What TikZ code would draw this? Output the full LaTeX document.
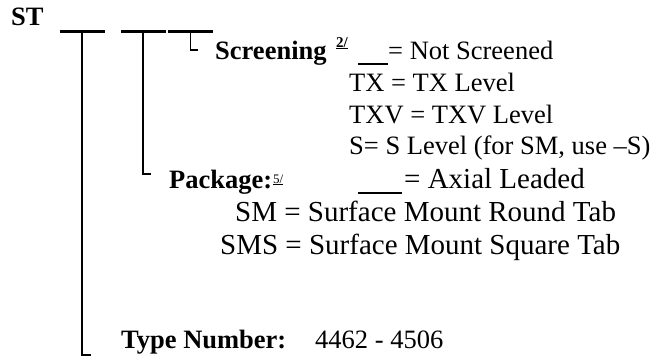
\documentclass[tikz,border=0pt]{standalone}
\usepackage{fontspec}
\setmainfont{Liberation Serif}
\usetikzlibrary{positioning}

\begin{document}
\begin{tikzpicture}[
  x=1pt, y=-1pt,
  every node/.style={inner sep=0pt, font=\fontsize{26.5}{32}\selectfont},
  lbl/.style={anchor=base west},
  wide/.style={lbl, font=\fontsize{29}{32}\selectfont},
  key/.style={lbl, font=\fontsize{26.5}{32}\selectfont\bfseries},
  note/.style={lbl, font=\fontsize{15}{15}\selectfont\bfseries},
  slot/.style={fill=black, minimum width=45pt, minimum height=2.7pt},
  gap/.style={fill=black, minimum height=1.3pt},
  hook/.style={line width=1.9pt}
]
\useasboundingbox (0,0) rectangle (654,360);

% part number with its three blanks
\node[key] (st) at (11,25) {ST};
\node[slot] (s1) at (82,31.5) {};
\node[slot] (s2) at (143,31.5) {};
\node[slot] (s3) at (190.5,31.5) {};

% screening
\node[key] (scr) at (215,59) {Screening};
\node[note] (n2) at (336,47) {\underline{2/}};
\node[gap, minimum width=30pt] (g1) at (373,64) {};
\node[lbl] (ns) at (388,59) {= Not Screened};
\node[lbl] (tx) at (349,91) {TX = TX Level};
\node[lbl] (txv) at (349,123) {TXV = TXV Level};
\node[lbl] (sl) at (349,154) {S= S Level (for SM, use --S)};

% package
\node[key] (pkg) at (169,188) {Package:};
\node[lbl, font=\fontsize{13}{13}\selectfont] (n5) at (273,183) {\underline{5/}};
\node[gap, minimum width=44pt] (g2) at (380,193) {};
\node[wide] (ax) at (404,188) {= Axial Leaded};
\node[wide] (sm) at (235,221) {SM = Surface Mount Round Tab};
\node[wide] (sms) at (220,254) {SMS = Surface Mount Square Tab};

% type number
\node[key] (tn) at (121,348) {Type Number:};
\node[lbl] (rng) at (315,348) {4462 - 4506};

\coordinate (h1) at (91,355);
\coordinate (h2) at (151,174);
\coordinate (h3) at (198,50);
\draw[hook] (s1.south) |- (h1);
\draw[hook] (s2.south) |- (h2);
\draw[hook] (s3.south) |- (h3);
\end{tikzpicture}
\end{document}
